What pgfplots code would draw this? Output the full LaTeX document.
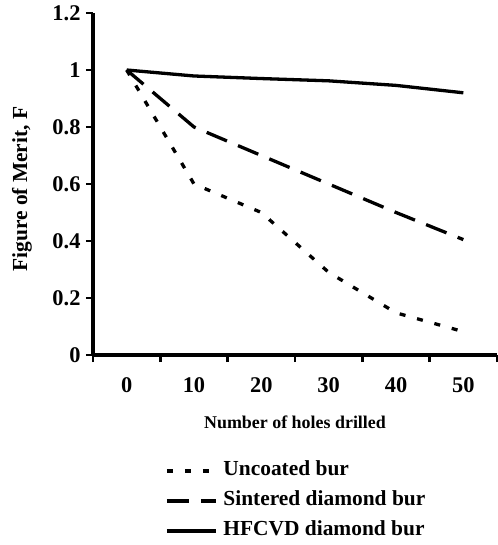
\documentclass[border=0pt]{standalone}
\usepackage{fontspec}
\setmainfont{Liberation Serif}
\usepackage{pgfplots}
\pgfplotsset{compat=1.18}
\begin{document}
\begin{tikzpicture}
\begin{axis}[
  at={(0,0)}, anchor=south west,
  width=404bp, height=342bp, scale only axis,
  xmin=-0.5, xmax=5.5, ymin=0, ymax=1.2,
  axis x line=bottom, axis y line=left,
  axis line style={line width=3.3bp, -},
  tick align=outside,
  major tick length=7bp,
  tick style={line width=2.8bp, black},
  /pgf/number format/assume math mode=true,
  xtick={-0.5,0.5,1.5,2.5,3.5,4.5,5.5},
  xticklabels={},
  extra x ticks={0,1,2,3,4,5},
  extra x tick labels={0,10,20,30,40,50},
  extra x tick style={major tick length=0pt, xticklabel style={yshift=-19bp}},
  ytick={0,0.2,0.4,0.6,0.8,1,1.2},
  yticklabels={0,0.2,0.4,0.6,0.8,1,1.2},
  ticklabel style={font=\bfseries\fontsize{22.5}{22.5}\selectfont},
  yticklabel style={xshift=-2bp},
  xlabel={Number of holes drilled},
  ylabel={Figure of Merit, F},
  xlabel style={font=\bfseries\fontsize{18}{18}\selectfont, at={(axis description cs:0.5,-0.196)}, anchor=center},
  ylabel style={font=\bfseries\fontsize{21.5}{21.5}\selectfont, at={(axis description cs:-0.176,0.485)}, anchor=center},
  legend style={at={(axis description cs:0.178,-0.312)}, anchor=north west, draw=none, fill=none,
    font=\bfseries\fontsize{21.5}{21.5}\selectfont, inner sep=0pt, row sep=12bp,
    nodes={inner sep=0pt, text height=14bp, text depth=4bp}},
  legend cell align=left,
  legend image code/.code={\draw[#1] (0bp,0bp) -- (49bp,0bp);},
  every axis legend/.append style={column sep=6bp},
]
\addplot[black, line width=3.3bp, dash pattern=on 6bp off 12bp] coordinates {(0,1) (1,0.6) (2,0.5) (3,0.29) (4,0.148) (5,0.082)};
\addlegendentry{Uncoated bur}
\addplot[black, line width=3.3bp, dash pattern=on 22bp off 12bp] coordinates {(0,1) (1,0.8) (2,0.7) (3,0.6) (4,0.5) (5,0.405)};
\addlegendentry{Sintered diamond bur}
\addplot[black, line width=3.3bp] coordinates {(0,1) (1,0.979) (2,0.97) (3,0.962) (4,0.946) (5,0.92)};
\addlegendentry{HFCVD diamond bur}
\end{axis}
\pgfresetboundingbox
\useasboundingbox (-93bp,-190bp) rectangle (405bp,355bp);
\end{tikzpicture}
\end{document}
